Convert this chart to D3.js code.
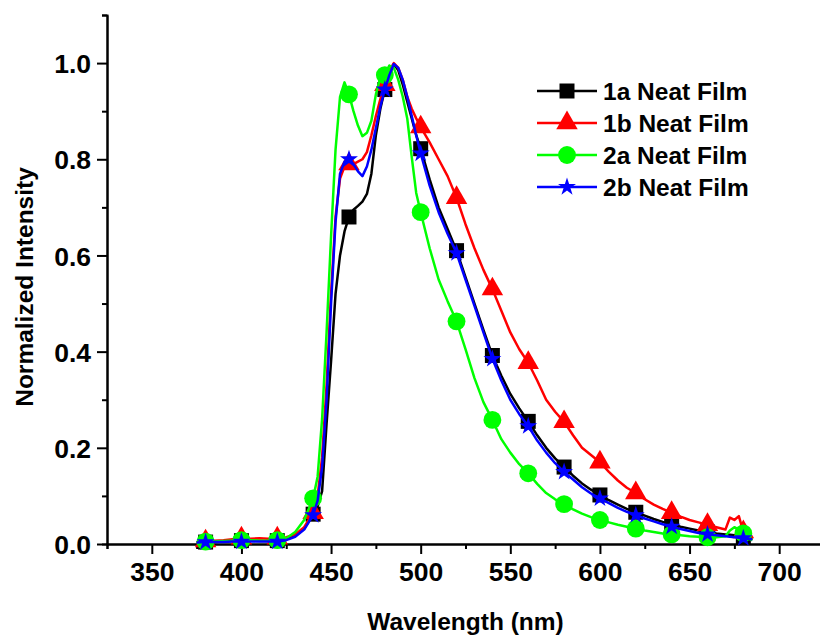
<!DOCTYPE html>
<html>
<head>
<meta charset="utf-8">
<script src="https://cdn.jsdelivr.net/npm/d3@7"></script>
<style>
  body { margin: 0; background: #fff; }
  svg text { font-family: "Liberation Sans", Arial, sans-serif; font-weight: bold; fill: #000; }
</style>
</head>
<body>
<div id="chart"></div>
<script>
// wavelength grid (nm), shared by all four spectra
const wavelength = [
  375, 380, 385, 390, 395, 400, 405, 410, 415, 420, 425, 430, 435,
  440, 442.5, 445, 447.5, 450, 452.5, 455, 457.5, 460, 462.5, 465, 467.5,
  470, 472.5, 475, 477.5, 480, 482.5, 485, 487.5, 490, 492.5, 495, 497.5,
  500, 505, 510, 515, 520, 525, 530, 535, 540, 545, 550, 555, 560, 565, 570,
  575, 580, 585, 590, 595, 600, 605, 610, 615, 620, 625, 630, 635, 640, 645,
  650, 655, 660, 665, 670,
  672.5, 675, 677.5, 680, 682.5, 685
];

const film1a = [
  0.003, 0.004, 0.004, 0.005, 0.006, 0.007, 0.007, 0.006, 0.006, 0.007, 0.010, 0.017, 0.032,
  0.062, 0.078, 0.11, 0.25, 0.38, 0.52, 0.60, 0.65, 0.68, 0.695, 0.703, 0.712,
  0.728, 0.77, 0.85, 0.905, 0.945, 0.975, 0.998, 0.985, 0.955, 0.92, 0.885, 0.85,
  0.822, 0.758, 0.70, 0.655, 0.61, 0.555, 0.50, 0.445, 0.392, 0.35, 0.312, 0.282, 0.255, 0.226, 0.20,
  0.178, 0.16, 0.142, 0.126, 0.113, 0.102, 0.091, 0.082, 0.073, 0.066, 0.059, 0.052, 0.046, 0.041, 0.036,
  0.032, 0.028, 0.025, 0.022, 0.02,
  0.019, 0.018, 0.017, 0.015, 0.012, 0.008
];

const film1b = [
  0.004, 0.006, 0.007, 0.008, 0.010, 0.012, 0.011, 0.012, 0.011, 0.012, 0.014, 0.020, 0.035,
  0.065, 0.10, 0.18, 0.33, 0.52, 0.68, 0.76, 0.785, 0.79, 0.79, 0.795, 0.80,
  0.815, 0.85, 0.89, 0.925, 0.955, 0.985, 1.0, 0.99, 0.965, 0.93, 0.905, 0.885,
  0.867, 0.835, 0.80, 0.765, 0.72, 0.665, 0.615, 0.57, 0.53, 0.485, 0.44, 0.405, 0.377, 0.34, 0.30,
  0.275, 0.254, 0.226, 0.20, 0.185, 0.17, 0.15, 0.132, 0.117, 0.106, 0.093, 0.082, 0.073, 0.065, 0.057,
  0.05, 0.045, 0.04, 0.035, 0.03,
  0.055, 0.05, 0.058, 0.025, 0.015, 0.01
];

const film2a = [
  0.003, 0.005, 0.005, 0.006, 0.007, 0.008, 0.008, 0.007, 0.007, 0.008, 0.012, 0.025, 0.05,
  0.095, 0.14, 0.26, 0.44, 0.64, 0.82, 0.93, 0.96, 0.935, 0.90, 0.87, 0.848,
  0.855, 0.88, 0.935, 0.97, 0.975, 0.995, 0.99, 0.965, 0.93, 0.885, 0.805, 0.73,
  0.69, 0.615, 0.55, 0.505, 0.463, 0.405, 0.345, 0.295, 0.258, 0.218, 0.19, 0.166, 0.147, 0.125, 0.106,
  0.093, 0.083, 0.072, 0.063, 0.056, 0.05, 0.045, 0.04, 0.036, 0.032, 0.028, 0.025, 0.022, 0.02, 0.018,
  0.016, 0.015, 0.014, 0.014, 0.016,
  0.028, 0.035, 0.03, 0.022, 0.012, 0.008
];

const film2b = [
  0.003, 0.004, 0.004, 0.004, 0.005, 0.005, 0.005, 0.005, 0.005, 0.005, 0.008, 0.015, 0.03,
  0.06, 0.09, 0.16, 0.30, 0.50, 0.67, 0.77, 0.795, 0.80, 0.79, 0.775, 0.765,
  0.785, 0.82, 0.865, 0.91, 0.945, 0.975, 0.998, 0.99, 0.965, 0.93, 0.89, 0.85,
  0.812, 0.745, 0.69, 0.645, 0.605, 0.55, 0.495, 0.44, 0.385, 0.34, 0.30, 0.27, 0.245, 0.215, 0.19,
  0.168, 0.15, 0.134, 0.118, 0.105, 0.095, 0.085, 0.075, 0.067, 0.06, 0.053, 0.047, 0.041, 0.036, 0.031,
  0.027, 0.023, 0.02, 0.018, 0.016,
  0.015, 0.014, 0.013, 0.012, 0.011, 0.01
];

const seriesNames = ["1a Neat Film", "1b Neat Film", "2a Neat Film", "2b Neat Film"];
const seriesColors = ["#000000", "#ff0000", "#00ff00", "#0000ff"];
const seriesSymbols = [d3.symbolSquare, d3.symbolTriangle, d3.symbolCircle, d3.symbolStar];
const symbolSizes = [225, 200, 250, 100];

const xTicks = [350, 400, 450, 500, 550, 600, 650, 700];
const xMinorTicks = [325, 375, 425, 475, 525, 575, 625, 675, 725];
const yTicks = [0.0, 0.2, 0.4, 0.6, 0.8, 1.0];
const yMinorTicks = [0.1, 0.3, 0.5, 0.7, 0.9, 1.1];
// symbols sit every 20 nm
const markerWavelengths = d3.range(380, 681, 20);

const width = 820;
const height = 636;
const margin = { top: 15, right: -4, bottom: 92, left: 107 };

const svg = d3.select('#chart').append('svg')
  .attr('width', width).attr('height', height);

const x = d3.scaleLinear([325, 725], [margin.left, width - margin.right]);
const y = d3.scaleLinear([0, 1.1], [height - margin.bottom, margin.top]);

// axes
const xAxis = d3.axisBottom(x).tickValues(xTicks).tickSizeInner(10).tickSizeOuter(0).tickPadding(4).tickFormat(d3.format('d'));
const yAxis = d3.axisLeft(y).tickValues(yTicks).tickSizeInner(10).tickSizeOuter(0).tickPadding(6).tickFormat(d3.format('.1f'));

const xAxisDraw = svg.append('g').attr('transform', `translate(0,${y(0)})`).call(xAxis);
const yAxisDraw = svg.append('g').attr('transform', `translate(${x(325)},0)`).call(yAxis);

svg.append('g').attr('transform', `translate(0,${y(0)})`)
  .call(d3.axisBottom(x).tickValues(xMinorTicks).tickSize(5).tickFormat(''));
svg.append('g').attr('transform', `translate(${x(325)},0)`)
  .call(d3.axisLeft(y).tickValues(yMinorTicks).tickSize(5).tickFormat(''));

svg.selectAll('.domain').attr('stroke-width', 2);
svg.selectAll('.tick line').attr('stroke-width', 2);

xAxisDraw.selectAll('text').attr('font-size', 26.5).attr('dy', '0.86em');
yAxisDraw.selectAll('text').attr('font-size', 26.5).attr('dy', '0.36em');
svg.selectAll('.tick text').style('font-family', '"Liberation Sans", Arial, sans-serif').style('font-weight', 'bold');

// axis titles
svg.append('text').attr('x', (x(325) + x(725)) / 2).attr('y', 630)
  .attr('text-anchor', 'middle').attr('font-size', 24.5).text('Wavelength (nm)');
svg.append('text').attr('transform', 'rotate(-90)')
  .attr('x', -287).attr('y', 33)
  .attr('text-anchor', 'middle').attr('font-size', 24.5).text('Normalized Intensity');

// curves + symbols
const allSeries = [film1a, film1b, film2a, film2b];
const line = d3.line().x(d => x(d[0])).y(d => y(d[1]));

allSeries.forEach((values, i) => {
  const pts = wavelength.map((w, j) => [w, values[j]]);
  const g = svg.append('g').attr('class', 'series');
  g.append('path').datum(pts)
    .attr('fill', 'none').attr('stroke', seriesColors[i])
    .attr('stroke-width', 2.5).attr('stroke-linejoin', 'round')
    .attr('d', line);
  const markers = pts.filter(p => markerWavelengths.includes(p[0]));
  g.selectAll('path.mark').data(markers).join('path')
    .attr('class', 'mark')
    .attr('transform', d => `translate(${x(d[0])},${y(d[1])})`)
    .attr('d', d3.symbol(seriesSymbols[i], symbolSizes[i]))
    .attr('fill', seriesColors[i]);
});

// legend
const legend = svg.append('g').attr('transform', 'translate(537,91)');
seriesNames.forEach((name, i) => {
  const row = legend.append('g').attr('transform', `translate(0,${i * 32})`);
  row.append('line').attr('x1', 0).attr('x2', 60).attr('y1', 0).attr('y2', 0)
    .attr('stroke', seriesColors[i]).attr('stroke-width', 2.5);
  row.append('path').attr('transform', 'translate(30,0)')
    .attr('d', d3.symbol(seriesSymbols[i], symbolSizes[i]))
    .attr('fill', seriesColors[i]);
  row.append('text').attr('x', 66).attr('y', 9)
    .attr('font-size', 24.5).text(name);
});
</script>
</body>
</html>
